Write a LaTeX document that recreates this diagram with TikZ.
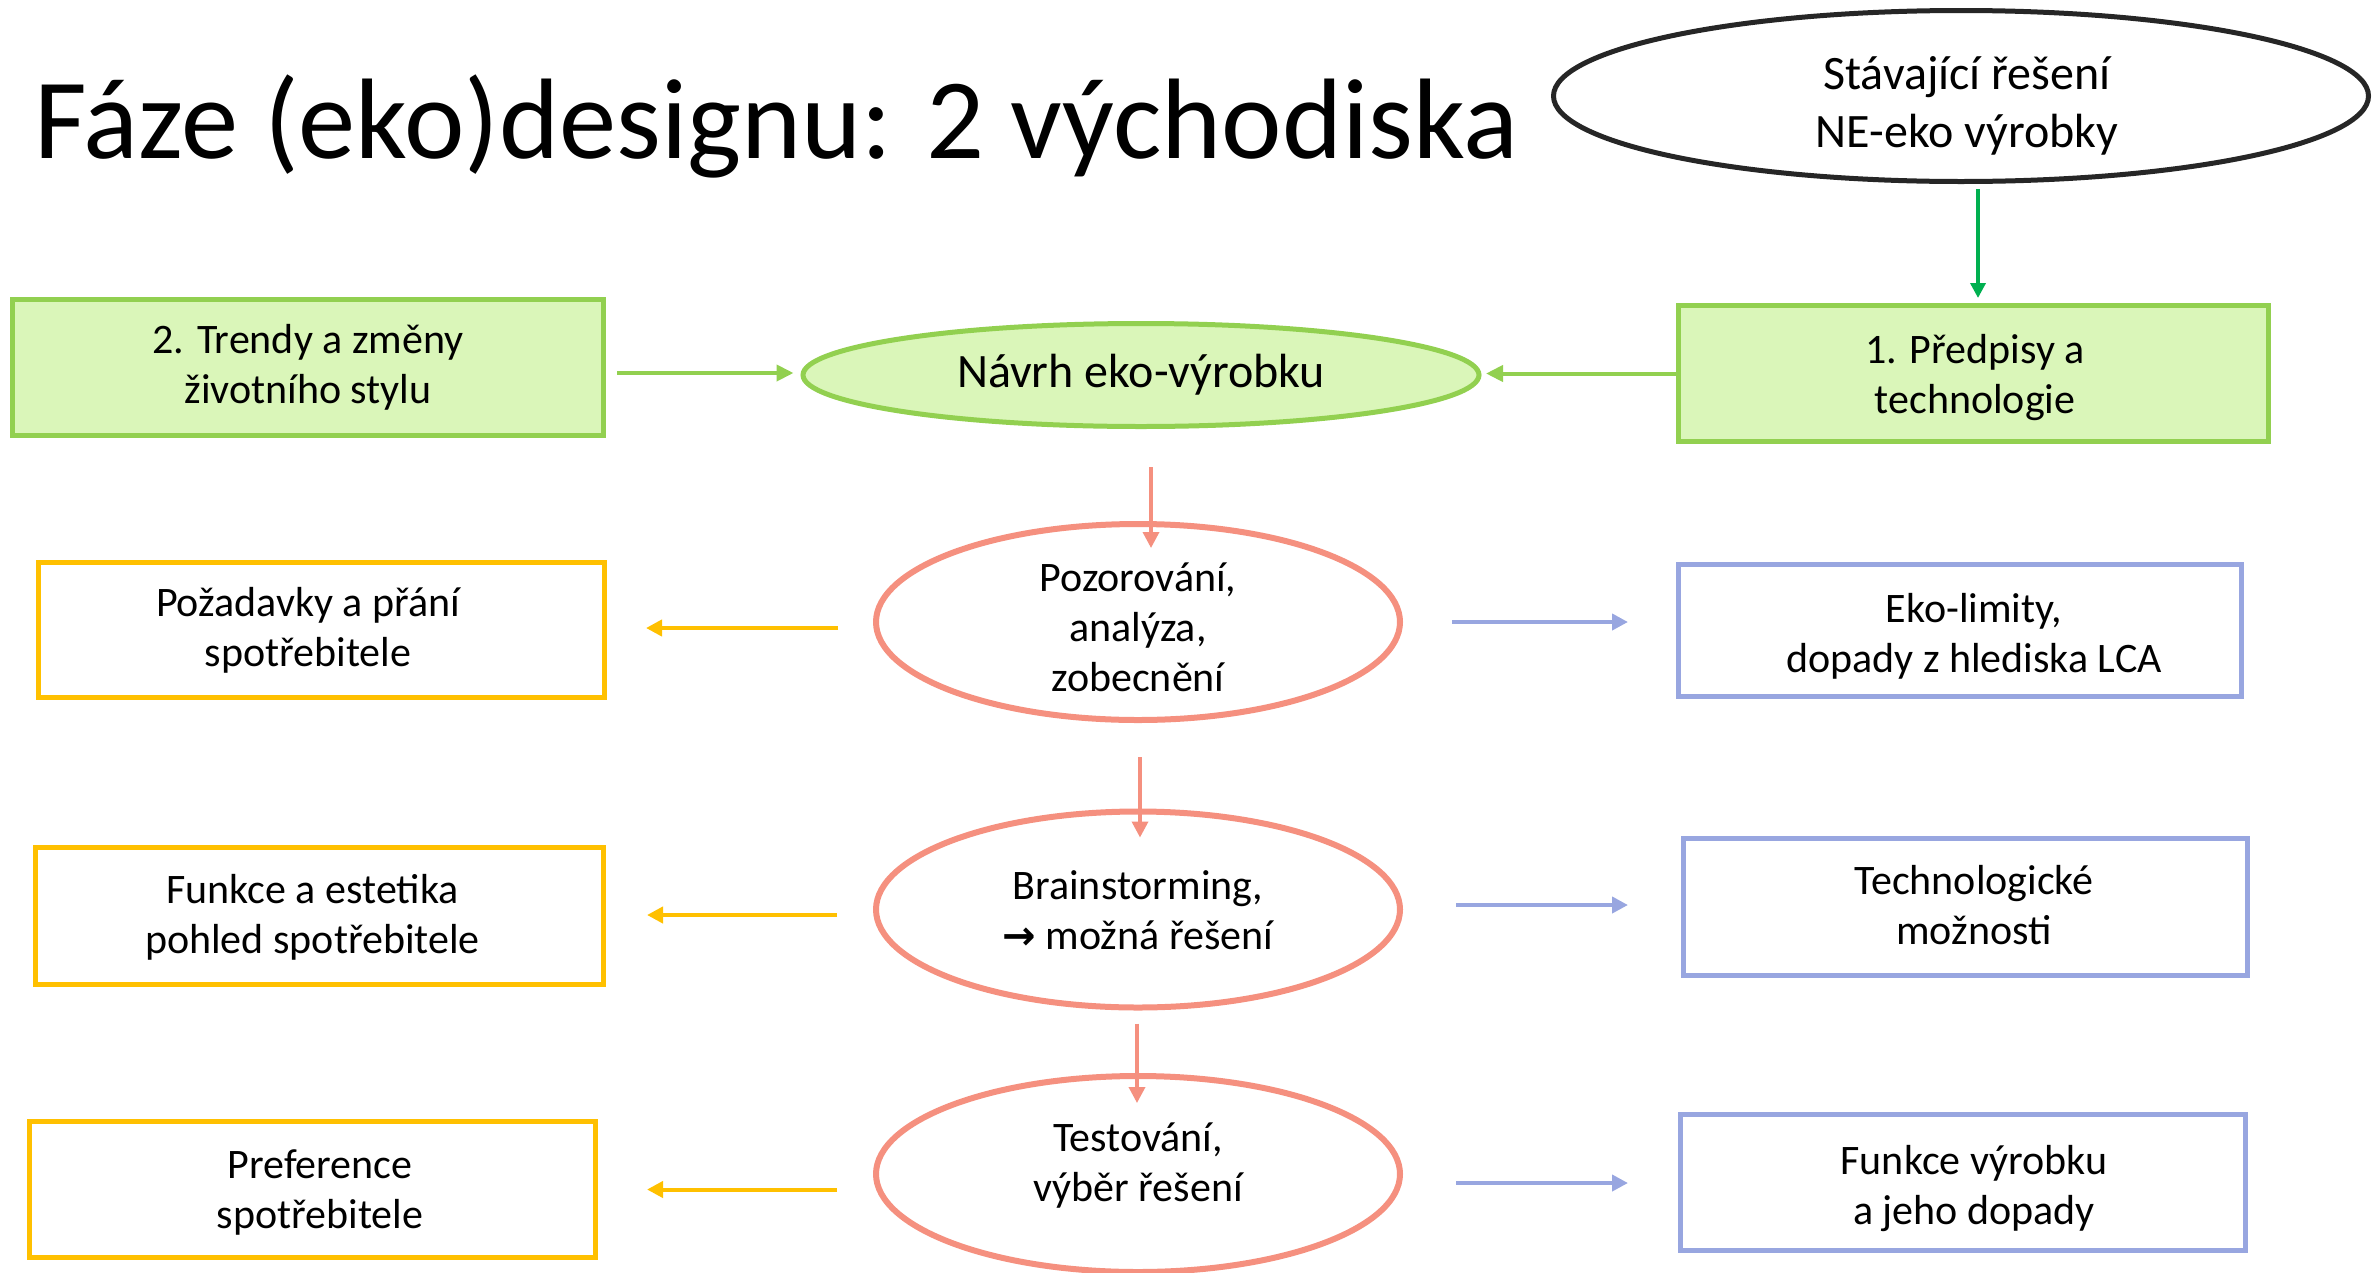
\documentclass[tikz,border=0pt]{standalone}
\usepackage{fontspec}
\setmainfont{Carlito}
\newfontfamily\symfont{DejaVu Sans}
\usetikzlibrary{arrows.meta,shapes.geometric,calc}
\definecolor{grnB}{HTML}{92D050}
\definecolor{grnF}{HTML}{DAF6B9}
\definecolor{grnA}{HTML}{00B050}
\definecolor{pinkC}{HTML}{F5907F}
\definecolor{yelC}{HTML}{FFC000}
\definecolor{bluC}{HTML}{98A6E0}
\definecolor{darkC}{HTML}{262626}
\begin{document}
\begin{tikzpicture}[x=1pt,y=-1pt,
  txt/.style={font=\fontsize{42}{50}\selectfont, align=center, text=black, inner sep=0pt},
  bigtxt/.style={font=\fontsize{48}{58}\selectfont, align=center, text=black, inner sep=0pt},
  rbox/.style={rectangle, line width=5pt, inner sep=0pt, txt},
  greenbox/.style={rbox, draw=grnB, fill=grnF},
  yelbox/.style={rbox, draw=yelC, fill=white},
  blubox/.style={rbox, draw=bluC, fill=white},
  pinkell/.style={ellipse, draw=pinkC, line width=6pt, fill=white, inner sep=0pt, minimum width=524pt, minimum height=196pt},
  greenell/.style={ellipse, draw=grnB, fill=grnF, line width=5pt, inner sep=0pt, minimum width=676pt, minimum height=103pt},
  blackell/.style={ellipse, draw=darkC, fill=white, line width=5pt, inner sep=0pt, minimum width=815pt, minimum height=171pt},
  gArrow/.style={draw=grnB, line width=4pt, -{Triangle[length=17pt,width=16pt]}},
  topArrow/.style={draw=grnA, line width=3.5pt, -{Triangle[length=15pt,width=15pt]}},
  pArrow/.style={draw=pinkC, line width=3.5pt, -{Triangle[length=16pt,width=16pt]}},
  yArrow/.style={draw=yelC, line width=4pt, -{Triangle[length=16pt,width=16pt]}},
  bArrow/.style={draw=bluC, line width=4pt, -{Triangle[length=16pt,width=16pt]}}
]
\useasboundingbox (0,0) rectangle (2374,1272);
\clip (0,0) rectangle (2374,1272);

% title
\node[anchor=base west, inner sep=0pt, font=\fontsize{114.5}{136}\selectfont] (title) at (34,158) {Fáze (eko)designu: 2 východiska};

% top ellipse
\node[blackell] (stav) at (1961,96) {};
\node[bigtxt] (stavtxt) at (1967,106) {Stávající řešení\\NE-eko výrobky};

% green row
\node[greenbox, minimum width=591pt, minimum height=136pt] (trend) at (308,367.5) {2. Trendy a změny\\životního stylu};
\node[greenbox, minimum width=590pt, minimum height=136pt] (pred) at (1973.5,373.5) {};
\node[txt] (predtxt) at (1975,377.5) {1. Předpisy a\\technologie};
\node[greenell] (navrh) at (1141,375) {};
\node[bigtxt] (navrhtxt) at (1141,375) {Návrh eko-výrobku};

% pink ellipses
\node[pinkell] (pozor) at (1138,622) {};
\node[txt] (pozortxt) at (1138,627) {Pozorování,\\analýza,\\zobecnění};
\node[pinkell] (brain) at (1138,909.5) {};
\node[txt] (braintxt) at (1138,910.5) {Brainstorming,\\{\symfont\bfseries\fontsize{40}{50}\selectfont →} možná řešení};
\node[pinkell] (test) at (1138,1174) {};
\node[txt] (testtxt) at (1138,1166) {Testování,\\výběr řešení};

% left yellow boxes
\node[yelbox, minimum width=566pt, minimum height=135pt] (req) at (321.5,630) {};
\node[txt] (reqtxt) at (308,630) {Požadavky a přání\\spotřebitele};
\node[yelbox, minimum width=568pt, minimum height=137pt] (fun) at (319.5,916) {};
\node[txt] (funtxt) at (312.5,917.5) {Funkce a estetika\\pohled spotřebitele};
\node[yelbox, minimum width=566pt, minimum height=136pt] (pref) at (312.5,1189.5) {};
\node[txt] (preftxt) at (320,1192.5) {Preference\\spotřebitele};

% right blue boxes
\node[blubox, minimum width=563pt, minimum height=132pt] (eko) at (1960,630.5) {};
\node[txt] (ekotxt) at (1974,636.5) {Eko-limity,\\dopady z hlediska LCA};
\node[blubox, minimum width=564pt, minimum height=137pt] (tech) at (1965.5,907) {};
\node[txt] (techtxt) at (1974,905) {Technologické\\možnosti};
\node[blubox, minimum width=565pt, minimum height=136pt] (fv) at (1963,1182.5) {};
\node[txt] (fvtxt) at (1974,1188.5) {Funkce výrobku\\a jeho dopady};

% connectors
\draw[topArrow] ($(stav.south)+(17,5)$) -- ($(pred.north)+(4.5,-5)$);
\draw[gArrow] ($(trend.east)+(11,5.5)$) -- ($(trend.east -| navrh.west)+(-7,5.5)$);
\draw[gArrow] (pred.west) -- ($(pred.west -| navrh.east)+(4.5,0)$);

\draw[pArrow] ($(navrh.south)+(10,38)$) -- ($(pozor.north)+(13,27)$);
\draw[pArrow] ($(pozor.south)+(2,34)$) -- ($(brain.north)+(2,29)$);
\draw[pArrow] ($(brain.south)+(-1,13)$) -- ($(test.north)+(-1,30)$);

\draw[yArrow] ($(pozor.west |- req.east)+(-35,-2)$) -- ($(req.east)+(39,-2)$);
\draw[yArrow] ($(brain.west |- fun.east)+(-36,-1)$) -- ($(fun.east)+(41,-1)$);
\draw[yArrow] ($(test.west |- pref.east)+(-36,0)$) -- ($(pref.east)+(49,0)$);

\draw[bArrow] ($(pozor.east)+(49,0)$) -- ($(pozor.east -| eko.west)+(-48,0)$);
\draw[bArrow] ($(brain.east)+(53,-4.5)$) -- ($(brain.east -| tech.west)+(-53,-4.5)$);
\draw[bArrow] ($(fv.west -| test.east)+(53,0.5)$) -- ($(fv.west)+(-50,0.5)$);
\end{tikzpicture}
\end{document}
